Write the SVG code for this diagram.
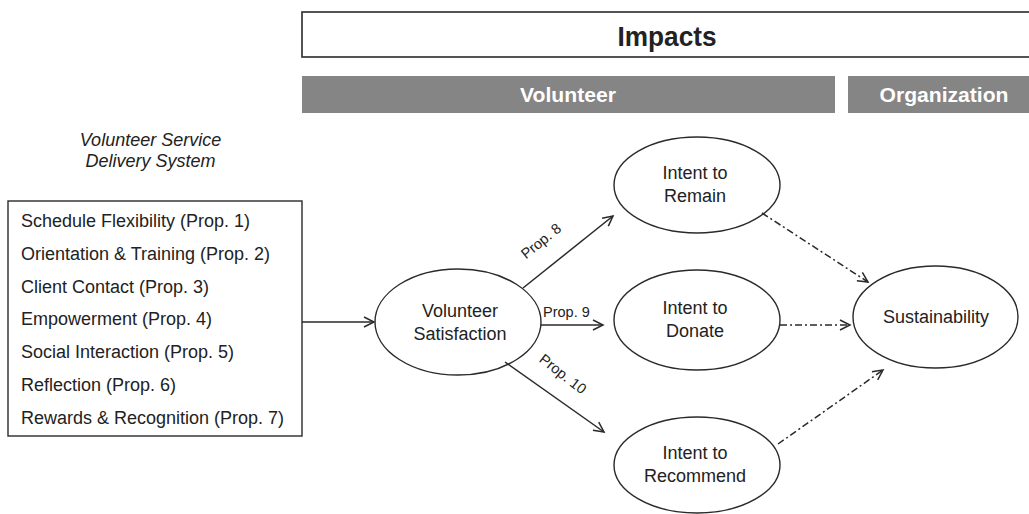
<svg xmlns="http://www.w3.org/2000/svg" width="1029" height="514" viewBox="0 0 1029 514">
<defs>
<style>
.t{font-family:"Liberation Sans",Arial,sans-serif;fill:#222;}
.node{fill:#fff;stroke:#2a2a2a;stroke-width:1.4;}
.lbl{font-size:18px;text-anchor:middle;}
.list{font-size:18px;}
.prop{font-size:14.5px;}
.bar{fill:#858585;}
.hdr{font-family:"Liberation Sans",Arial,sans-serif;font-weight:bold;fill:#fff;font-size:21px;text-anchor:middle;}
.solid{stroke:#2a2a2a;stroke-width:1.5;fill:none;marker-end:url(#ah);}
.dash{stroke:#2a2a2a;stroke-width:1.5;fill:none;stroke-dasharray:7 3 2 3;marker-end:url(#ah);}
</style>
<marker id="ah" markerUnits="userSpaceOnUse" markerWidth="14" markerHeight="14" refX="11" refY="6" orient="auto">
<path d="M1,1 L11,6 L1,11" fill="none" stroke="#2a2a2a" stroke-width="1.5"/>
</marker>
</defs>
<rect width="1029" height="514" fill="#fff"/>

<g id="impacts">
<rect x="302" y="12" width="740" height="45" fill="#fff" stroke="#2a2a2a" stroke-width="1.6"/>
<text class="t" x="667" y="46" font-size="28" font-weight="bold" text-anchor="middle" textLength="99" lengthAdjust="spacingAndGlyphs">Impacts</text>
</g>
<g id="volunteer-header">
<rect class="bar" x="302" y="76" width="533" height="37"/>
<text class="hdr" x="568" y="102" textLength="96" lengthAdjust="spacingAndGlyphs">Volunteer</text>
</g>
<g id="organization-header">
<rect class="bar" x="848" y="76" width="190" height="37"/>
<text class="hdr" x="944" y="102" textLength="129" lengthAdjust="spacingAndGlyphs">Organization</text>
</g>

<g id="vsds-title">
<text class="t" x="150.5" y="146" font-size="18" font-style="italic" text-anchor="middle">Volunteer Service</text>
<text class="t" x="150.5" y="167" font-size="18" font-style="italic" text-anchor="middle">Delivery System</text>
</g>

<g id="vsds-box">
<rect x="8" y="201" width="294" height="235" fill="#fff" stroke="#2a2a2a" stroke-width="1.4"/>
<text class="t list" x="21" y="226.5">Schedule Flexibility (Prop. 1)</text>
<text class="t list" x="21" y="259.5">Orientation &amp; Training (Prop. 2)</text>
<text class="t list" x="21" y="292.5">Client Contact (Prop. 3)</text>
<text class="t list" x="21" y="325">Empowerment (Prop. 4)</text>
<text class="t list" x="21" y="358">Social Interaction (Prop. 5)</text>
<text class="t list" x="21" y="391">Reflection (Prop. 6)</text>
<text class="t list" x="21" y="424">Rewards &amp; Recognition (Prop. 7)</text>
</g>

<g id="volunteer-satisfaction">
<ellipse class="node" cx="458" cy="322" rx="83" ry="53"/>
<text class="t lbl" x="460" y="317">Volunteer</text>
<text class="t lbl" x="460" y="340">Satisfaction</text>
</g>
<g id="intent-remain">
<ellipse class="node" cx="697" cy="185" rx="83" ry="48"/>
<text class="t lbl" x="695" y="179">Intent to</text>
<text class="t lbl" x="695" y="202">Remain</text>
</g>
<g id="intent-donate">
<ellipse class="node" cx="697" cy="320" rx="83" ry="50"/>
<text class="t lbl" x="695" y="314">Intent to</text>
<text class="t lbl" x="695" y="337">Donate</text>
</g>
<g id="intent-recommend">
<ellipse class="node" cx="697" cy="465" rx="83" ry="48"/>
<text class="t lbl" x="695" y="459">Intent to</text>
<text class="t lbl" x="695" y="482">Recommend</text>
</g>
<g id="sustainability">
<ellipse class="node" cx="935.5" cy="317" rx="82.5" ry="51"/>
<text class="t lbl" x="936" y="323">Sustainability</text>
</g>

<g id="connectors">
<line class="solid" x1="302" y1="322" x2="374" y2="322"/>
<line class="solid" x1="523" y1="288" x2="613" y2="216"/>
<line class="solid" x1="541" y1="325" x2="603" y2="325"/>
<line class="solid" x1="505" y1="362" x2="604" y2="432"/>
<line class="dash" x1="762" y1="213" x2="868" y2="282"/>
<line class="dash" x1="780" y1="325" x2="850" y2="325"/>
<line class="dash" x1="778" y1="444" x2="883" y2="370"/>
<text class="t prop" transform="translate(541,241) rotate(-38.7)" text-anchor="middle" dy="5">Prop. 8</text>
<text class="t prop" x="543" y="317">Prop. 9</text>
<text class="t prop" transform="translate(563,374) rotate(38)" text-anchor="middle" dy="5">Prop. 10</text>
</g>
</svg>
